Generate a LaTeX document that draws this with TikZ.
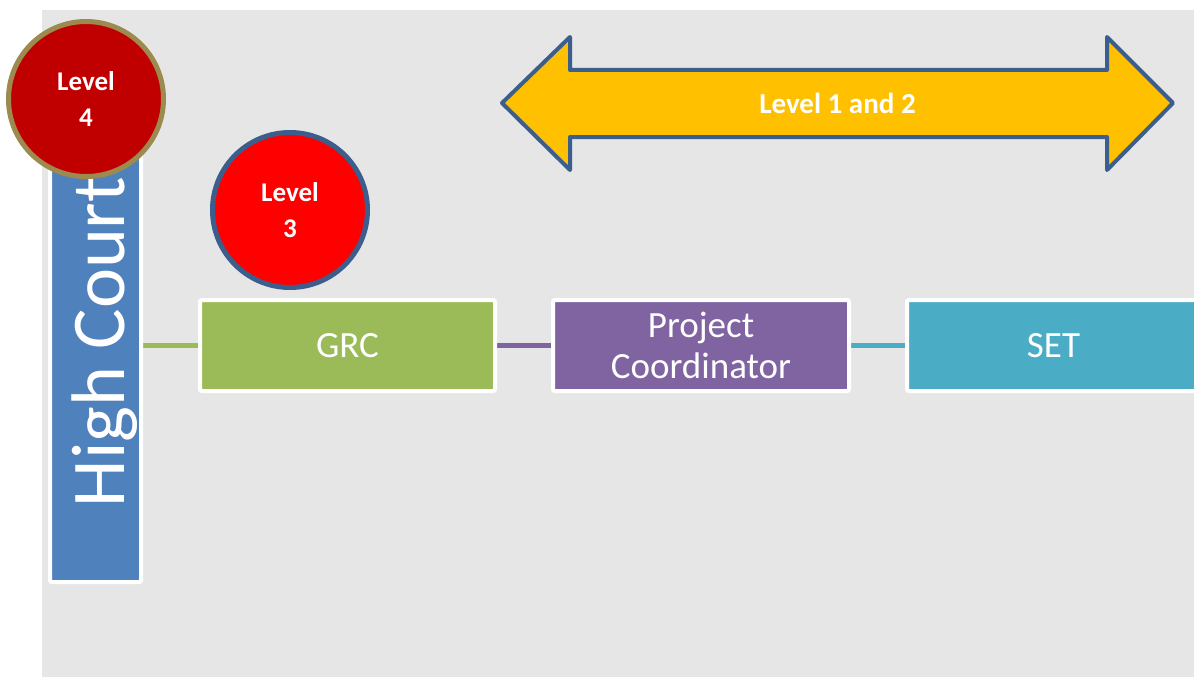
\documentclass[tikz,border=0pt]{standalone}
\usepackage{fontspec}
\setmainfont{Carlito}
\usetikzlibrary{calc,backgrounds}
\definecolor{panel}{HTML}{E6E6E6}
\definecolor{hcblue}{HTML}{4F81BD}
\definecolor{grcgreen}{HTML}{9BBB59}
\definecolor{pcpurple}{HTML}{8064A2}
\definecolor{setteal}{HTML}{4BACC6}
\definecolor{lvfour}{HTML}{C00000}
\definecolor{lvfourrim}{HTML}{9C8A4E}
\definecolor{lvthree}{HTML}{FF0000}
\definecolor{rimblue}{HTML}{3C5E8C}
\definecolor{arrowgold}{HTML}{FFC000}
\tikzset{
  unitbox/.style={draw=white, line width=4pt, rounded corners=2pt, inner sep=0pt,
    text=white, align=center, font=\fontsize{37}{41}\selectfont},
  levelcircle/.style={circle, line width=5pt, minimum size=155pt, inner sep=0pt,
    text=white, align=center, font=\fontsize{27}{36}\selectfont\bfseries},
  link/.style={line width=5pt},
}
\begin{document}
\begin{tikzpicture}[x=1pt, y=-1pt]
  \useasboundingbox (0,0) rectangle (1194,677);
  \clip (0,0) rectangle (1194,677);
  % grey panel
  \begin{scope}[on background layer]
    \fill[panel] (42,10) rectangle (1200,690);
  \end{scope}

  % High Court column
  \node[unitbox, fill=hcblue, minimum width=91pt, minimum height=432pt] (hc) at (95.5,366) {};
  \node[rotate=90, anchor=base, text=white, font=\fontsize{76}{80}\selectfont] (hclabel) at (124,342) {High Court};

  % unit boxes
  \node[unitbox, fill=grcgreen, minimum width=295pt, minimum height=91pt] (grc) at (347.5,345.5) {GRC};
  \node[unitbox, fill=pcpurple, minimum width=296pt, minimum height=91pt] (pc) at (701,345.5) {Project\\Coordinator};
  \node[unitbox, fill=setteal, minimum width=293pt, minimum height=91pt] (set) at (1053.5,345.5) {SET};

  % connectors, kept behind the boxes
  \begin{scope}[on background layer]
    \draw[link, grcgreen] (hc.east |- grc.west) -- (grc.west);
    \draw[link, pcpurple] (grc.east) -- (pc.west);
    \draw[link, setteal] (pc.east) -- (set.west);
  \end{scope}

  % level circles
  \node[levelcircle, fill=lvfour, draw=lvfourrim] (lfour) at (86,99) {Level\\4};
  \node[levelcircle, fill=lvthree, draw=rimblue] (lthree) at (290,210) {Level\\3};

  % double-headed arrow
  \coordinate (ltip) at (502,103);
  \coordinate (rtip) at (1173,103);
  \draw[fill=arrowgold, draw=rimblue, line width=4pt, line join=round]
    (ltip) -- (570,37) -- (570,70) -- (1107,70) -- (1107,37) -- (rtip)
    -- (1107,170) -- (1107,137) -- (570,137) -- (570,170) -- cycle;
  \node[text=white, font=\fontsize{29}{32}\selectfont\bfseries] (lonetwo) at ($(ltip)!0.5!(rtip)$) {Level 1 and 2};
\end{tikzpicture}
\end{document}
